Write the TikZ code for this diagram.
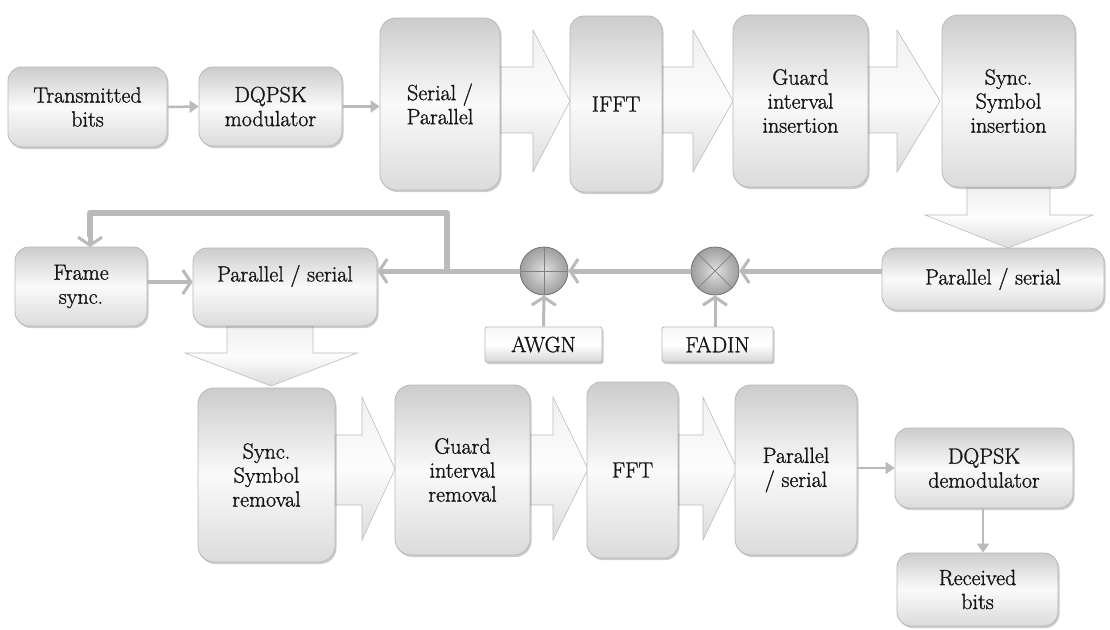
\documentclass[tikz,border=0pt]{standalone}
\usepackage{fontspec}
\setmainfont{Latin Modern Roman}[FakeBold=1.2]
\usetikzlibrary{arrows.meta,shadows,calc}
\tikzset{
  blk/.style={draw=black!28, line width=0.8pt, rounded corners=14pt,
    top color=black!20, bottom color=black!14, middle color=black!2,
    drop shadow={shadow xshift=1.5pt, shadow yshift=-2pt, fill=black, opacity=0.2},
    align=center, inner sep=0pt, text=black!92,
    font=\fontsize{22}{24}\selectfont},
  smallblk/.style={blk, rounded corners=2pt, top color=black!3, bottom color=black!16, middle color=white},
  fatarr/.style={draw=black!26, line width=0.6pt, top color=black!6, bottom color=black!14, middle color=black!1},
  chan/.style={draw=black!27, line width=5pt, -{Straight Barb[length=8pt,width=24pt,line width=3pt]}},
  fbline/.style={draw=black!27, line width=6pt},
  thinarr/.style={draw=black!27, line width=2.5pt, -{Triangle[length=9pt,width=12pt]}},
  mixer/.style={circle, minimum size=48pt, inner sep=0pt, draw=black!55, line width=0.8pt,
    inner color=black!12, outer color=black!38},
  txt/.style={text=black!92, font=\fontsize{22}{24}\selectfont, align=center}
}
\begin{document}
\begin{tikzpicture}[x=1pt,y=-1pt]
\useasboundingbox[fill=white] (0,0) rectangle (1110,629);

% block arrows (drawn first, boxes overlap them)
\path[fatarr] (500,67) -- (533,67) -- (533,30) -- (570,101) -- (533,172) -- (533,133) -- (500,133) -- cycle;
\path[fatarr] (662,67) -- (693,67) -- (693,30) -- (733,101) -- (693,172) -- (693,133) -- (662,133) -- cycle;
\path[fatarr] (868,67) -- (897,67) -- (897,30) -- (940,101) -- (897,172) -- (897,133) -- (868,133) -- cycle;
\path[fatarr] (967,187) -- (967,215) -- (925,215) -- (1008,248) -- (1093,215) -- (1050,215) -- (1050,187) -- cycle;
\path[fatarr] (227,326) -- (227,353) -- (185,353) -- (271,386) -- (357,353) -- (313,353) -- (313,326) -- cycle;
\path[fatarr] (335,435) -- (362,435) -- (362,397) -- (395,469) -- (362,540) -- (362,505) -- (335,505) -- cycle;
\path[fatarr] (530,435) -- (553,435) -- (553,397) -- (588,469) -- (553,540) -- (553,505) -- (530,505) -- cycle;
\path[fatarr] (678,435) -- (703,435) -- (703,397) -- (737,469) -- (703,540) -- (703,505) -- (678,505) -- cycle;

% top row
\node[blk, minimum width=159pt, minimum height=80pt] (tb) at (87.5,107) {Transmitted\\bits};
\node[blk, minimum width=143pt, minimum height=79pt] (dm) at (270.5,106.5) {DQPSK\\modulator};
\node[blk, minimum width=120pt, minimum height=172pt, rounded corners=16pt] (sp) at (440,104) {Serial /\\Parallel};
\node[blk, minimum width=92pt, minimum height=176pt] (ifft) at (616,104) {IFFT};
\node[blk, minimum width=135pt, minimum height=172pt, rounded corners=16pt] (gi) at (800.5,101) {Guard\\interval\\insertion};
\node[blk, minimum width=133pt, minimum height=172pt, rounded corners=16pt] (ssi) at (1008.5,101) {Sync.\\Symbol\\insertion};

% middle row
\node[blk, minimum width=222pt, minimum height=62pt] (psr) at (993,279) {Parallel / serial};
\node[blk, minimum width=132pt, minimum height=79pt] (fs) at (81,286.5) {Frame\\sync.};
\node[blk, minimum width=184pt, minimum height=78pt] (psl) at (285,287) {};
\node[txt] (psltxt) at (285,276) {Parallel / serial};
\node[mixer] (add) at (544,271) {};
\node[mixer] (mul) at (715,271) {};
\draw[black!50, line width=0.7pt] (add.north) -- (add.south) (add.west) -- (add.east);
\draw[black!50, line width=0.7pt] (mul.north west) -- (mul.south east) (mul.north east) -- (mul.south west);
\node[smallblk, minimum width=117pt, minimum height=35pt] (awgn) at (543.5,344.5) {AWGN};
\node[smallblk, minimum width=111pt, minimum height=35pt] (fadin) at (717.5,344.5) {FADIN};

% bottom row
\node[blk, minimum width=137pt, minimum height=174pt, rounded corners=16pt] (ssr) at (266.5,475) {Sync.\\Symbol\\removal};
\node[blk, minimum width=135pt, minimum height=170pt, rounded corners=16pt] (gir) at (462.5,470) {Guard\\interval\\removal};
\node[blk, minimum width=91pt, minimum height=176pt] (fft) at (632.5,470) {FFT};
\node[blk, minimum width=122pt, minimum height=170pt, rounded corners=16pt] (ps3) at (796,470) {Parallel\\/ serial};
\node[blk, minimum width=178pt, minimum height=80pt] (dd) at (984,468) {DQPSK\\demodulator};
\node[blk, minimum width=161pt, minimum height=73pt] (rb) at (977.5,589.5) {Received\\bits};

% thin connectors
\draw[thinarr] (tb.east) -- (dm.west);
\draw[thinarr] (dm.east) -- (dm.east -| sp.west);
\draw[thinarr] (ps3.east |- dd.west) -- (dd.west);
\draw[thinarr] (dd.south -| 983,0) -- (rb.north -| 983,0);

% channel connectors
\draw[chan] (psr.west |- mul.east) -- (mul.east);
\draw[chan] (mul.west) -- (add.east);
\draw[chan] (add.west) -- (add.west -| psl.east);
\draw[chan, line width=3pt] (awgn.north) -- (add.south);
\draw[chan, line width=3pt] (fadin.north -| mul.south) -- (mul.south);
\draw[chan, line width=4pt] (fs.east |- 0,282) -- (psl.west |- 0,282);

% feedback
\coordinate (fb) at (447,271);
\coordinate (c1) at (447,213);
\coordinate (c2) at (90,213);
\coordinate (fsin) at (90,247);
\draw[fbline, line join=round] (fb) -- (c1) -- (c2) -- ($(fsin)+(0,-10)$);
\draw[chan] ($(fsin)+(0,-12)$) -- (fsin);
\end{tikzpicture}
\end{document}
